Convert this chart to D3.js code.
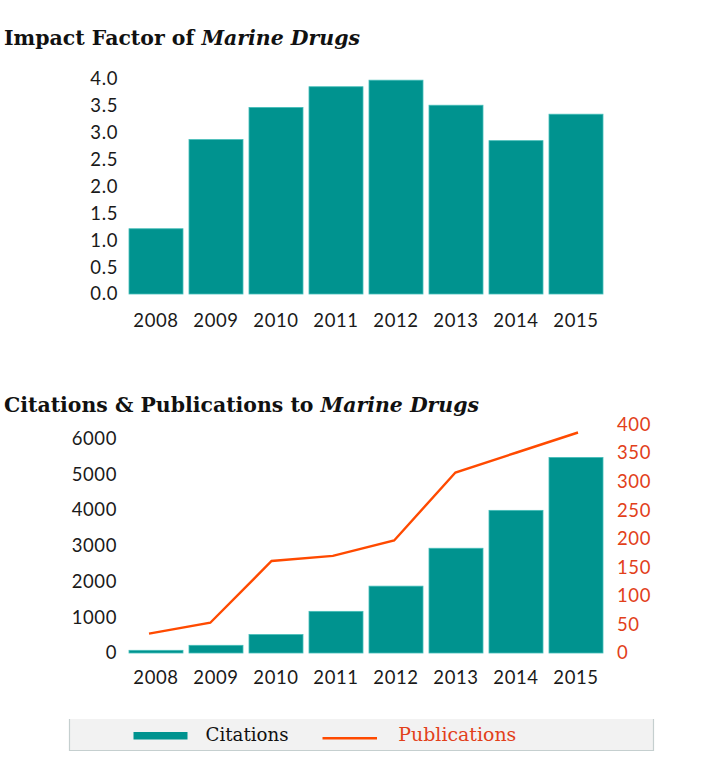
<!DOCTYPE html>
<html>
<head>
<meta charset="utf-8">
<script src="https://cdn.jsdelivr.net/npm/d3@7"></script>
<style>
  html, body { margin: 0; padding: 0; background: #fff; }
  svg { display: block; }
</style>
</head>
<body>
<svg id="chart" width="702" height="758"></svg>
<script>
const years = ["2008", "2009", "2010", "2011", "2012", "2013", "2014", "2015"];
const impactFactor = [1.214, 2.873, 3.471, 3.856, 3.978, 3.512, 2.853, 3.345];
const citations = [75, 215, 515, 1165, 1870, 2930, 3990, 5470];
const publications = [34, 53, 161, 170, 197, 316, 351, 386];
const ifTicks = [0, 0.5, 1, 1.5, 2, 2.5, 3, 3.5, 4];
const citTicks = [0, 1000, 2000, 3000, 4000, 5000, 6000];
const pubTicks = [0, 50, 100, 150, 200, 250, 300, 350, 400];

const TEAL = "#00938f";
const TEAL_EDGE = "#44bdb8";
const ORANGE = "#ff4a00";
const ORANGE_TXT = "#e2401a";
const TXT = "#1a1a1a";
const SANS = "Lato, 'Open Sans', sans-serif";
const SLAB = "'DejaVu Serif', serif";

const svg = d3.select("#chart");

function title(y, width, parts) {
  const t = svg.append("text")
    .attr("x", 4).attr("y", y)
    .attr("font-family", SLAB).attr("font-weight", "bold")
    .attr("font-size", 21).attr("fill", "#111")
    .attr("textLength", width).attr("lengthAdjust", "spacingAndGlyphs");
  parts.forEach(p => t.append("tspan").attr("font-style", p[1] ? "italic" : "normal").text(p[0]));
}

// ---------- Chart 1: Impact factor ----------
title(45, 356, [["Impact Factor of ", false], ["Marine Drugs", true]]);

const x1 = d3.scaleBand().domain(years).range([126, 606]).paddingInner(0.1).paddingOuter(0.05);
const y1 = d3.scaleLinear().domain([0, 4]).range([294, 79]);

const g1 = svg.append("g");
g1.selectAll("rect").data(years).join("rect")
  .attr("x", d => x1(d))
  .attr("y", (d, i) => y1(impactFactor[i]))
  .attr("width", x1.bandwidth())
  .attr("height", (d, i) => y1(0) - y1(impactFactor[i]))
  .attr("fill", TEAL).attr("stroke", TEAL_EDGE).attr("stroke-width", 0.8);

const ax1 = g1.append("g").attr("transform", "translate(118,0)")
  .call(d3.axisLeft(y1).tickValues(ifTicks).tickFormat(d3.format(".1f")).tickSize(0).tickPadding(0));
const ax1x = g1.append("g").attr("transform", "translate(0,314)")
  .call(d3.axisBottom(x1).tickSize(0).tickPadding(0));

// ---------- Chart 2: Citations & publications ----------
title(412, 475, [["Citations & Publications to ", false], ["Marine Drugs", true]]);

const x2 = d3.scaleBand().domain(years).range([126, 606]).paddingInner(0.1).paddingOuter(0.05);
const xLine = d3.scalePoint().domain(years).range([149, 578]);
const y2 = d3.scaleLinear().domain([0, 6000]).range([653, 438.5]);
const y2r = d3.scaleLinear().domain([0, 400]).range([653, 424.5]);

const g2 = svg.append("g");
g2.selectAll("rect").data(years).join("rect")
  .attr("x", d => x2(d))
  .attr("y", (d, i) => y2(citations[i]))
  .attr("width", x2.bandwidth())
  .attr("height", (d, i) => y2(0) - y2(citations[i]))
  .attr("fill", TEAL).attr("stroke", TEAL_EDGE).attr("stroke-width", 0.8);

const line = d3.line().x((d, i) => xLine(years[i])).y(d => y2r(d));
g2.append("path").datum(publications)
  .attr("d", line).attr("fill", "none")
  .attr("stroke", ORANGE).attr("stroke-width", 2.4).attr("stroke-linejoin", "miter");

const ax2 = g2.append("g").attr("transform", "translate(117,0)")
  .call(d3.axisLeft(y2).tickValues(citTicks).tickFormat(d3.format("d")).tickSize(0).tickPadding(0));
const ax2r = g2.append("g").attr("transform", "translate(617,0)")
  .call(d3.axisRight(y2r).tickValues(pubTicks).tickFormat(d3.format("d")).tickSize(0).tickPadding(0));
const ax2x = g2.append("g").attr("transform", "translate(0,671)")
  .call(d3.axisBottom(x2).tickSize(0).tickPadding(0));

// axis styling
[ax1, ax1x, ax2, ax2r, ax2x].forEach(a => {
  a.select(".domain").remove();
  a.selectAll("text").attr("font-family", SANS).attr("font-size", 18.5)
    .attr("letter-spacing", "0.6px").attr("fill", TXT);
});
ax2r.selectAll("text").attr("fill", ORANGE_TXT);

// ---------- Legend ----------
const lg = svg.append("g");
lg.append("rect").attr("x", 69.5).attr("y", 719).attr("width", 584).attr("height", 31)
  .attr("fill", "#f2f2f2");
lg.append("path").attr("d", "M69.5,719V750.5H653.5V719")
  .attr("fill", "none").attr("stroke", "#c5cfcf").attr("stroke-width", 1.2);
lg.append("rect").attr("x", 133.5).attr("y", 732).attr("width", 54).attr("height", 7.5).attr("fill", TEAL);
lg.append("text").attr("x", 205.5).attr("y", 741)
  .attr("font-family", SLAB).attr("font-size", 19).attr("fill", "#111")
  .attr("textLength", 83).attr("lengthAdjust", "spacingAndGlyphs").text("Citations");
lg.append("line").attr("x1", 322.5).attr("x2", 377).attr("y1", 738.3).attr("y2", 738.3)
  .attr("stroke", ORANGE).attr("stroke-width", 2.4);
lg.append("text").attr("x", 398.3).attr("y", 741)
  .attr("font-family", SLAB).attr("font-size", 19).attr("fill", ORANGE_TXT)
  .attr("textLength", 118).attr("lengthAdjust", "spacingAndGlyphs").text("Publications");
</script>
</body>
</html>
